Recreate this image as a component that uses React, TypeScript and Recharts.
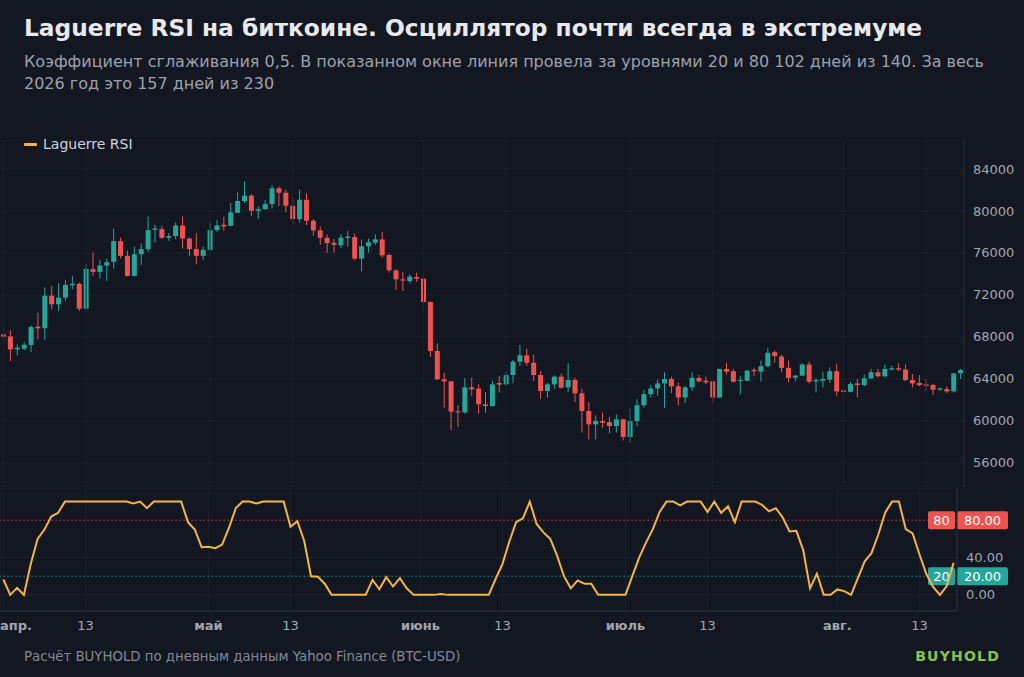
import React from 'react';
import { ComposedChart, Bar, Line, XAxis, YAxis, CartesianGrid, ReferenceLine } from 'recharts';

// ---- data (Apr 1 .. Aug 18, daily BTC-USD) ----
const openP = [
  68250, 68060, 66820, 66890, 67240, 68990, 68830, 71940, 71120, 71750,
  72930, 73060, 70700, 74460, 74200, 74810, 75160, 77130, 75730, 73820,
  75890, 76370, 78210, 78270, 77450, 77610, 78620, 77380, 76370, 75730,
  76300, 78180, 78690, 78590, 79830, 80950, 81460, 80020, 80180, 80660,
  82160, 81740, 80500, 79230, 81070, 79070, 78150, 77450, 76970, 76730,
  77430, 77520, 75460, 76640, 76980, 77300, 75810, 74350, 73490, 73330,
  73710, 73560, 71330, 66670, 63970, 63780, 60920, 60820, 63200, 63080,
  61590, 61430, 63620, 63490, 64380, 65650, 66250, 65550, 64380, 62860,
  63490, 64220, 63200, 63900, 62630, 60950, 59680, 60000, 59900, 59520,
  60160, 58480, 60000, 61500, 62560, 63100, 63580, 64000, 63300, 62240,
  63200, 64100, 63840, 63780, 62240, 64960, 64740, 63810, 63840, 64860,
  64700, 65220, 66560, 66140, 65060, 64130, 64320, 65380, 63780, 63840,
  63940, 64740, 62910, 62780, 63580, 63420, 64060, 64640, 64260, 64900,
  65020, 64900, 63900, 63620, 63490, 63420, 62980, 63040, 62820, 64540,
];
const highP = [
  69210, 68640, 67300, 67520, 69110, 70320, 72740, 72870, 73120, 73440,
  73820, 73180, 74930, 76050, 75350, 75470, 78340, 77480, 76210, 76620,
  76910, 79480, 78690, 78590, 77890, 78910, 79480, 77480, 77890, 76620,
  78910, 79130, 79450, 80760, 81770, 82820, 81610, 80440, 81040, 82470,
  82350, 82030, 81300, 82030, 81680, 79230, 78530, 77770, 77320, 77780,
  78100, 77840, 77300, 77370, 77780, 78000, 75970, 74440, 74190, 73970,
  74130, 73940, 71400, 67400, 64600, 63800, 61490, 64090, 64130, 63490,
  62760, 63810, 64280, 64700, 65810, 67240, 66890, 66320, 64760, 63650,
  64350, 64510, 65490, 64130, 63080, 61810, 60540, 60790, 60410, 60630,
  60200, 61180, 62080, 62980, 63420, 63940, 64640, 64220, 63680, 63360,
  64640, 64380, 64220, 63800, 64960, 65540, 64960, 64320, 64830, 65060,
  65760, 66980, 66720, 66340, 65760, 64380, 65500, 65660, 64060, 64700,
  65120, 65440, 63100, 63740, 64000, 64420, 64960, 64960, 65380, 65280,
  65500, 65380, 64480, 64380, 64000, 63520, 63200, 63300, 64540, 64960,
];
const lowP = [
  67460, 65710, 66250, 66730, 66570, 67780, 67710, 70640, 70480, 71440,
  72550, 70480, 70640, 73820, 73570, 73340, 74520, 75470, 73760, 73760,
  74840, 76110, 77000, 77320, 77160, 77320, 76430, 75730, 74930, 75350,
  76210, 78020, 78120, 78530, 79800, 80760, 79550, 79230, 80120, 80250,
  80440, 79870, 78720, 78910, 78660, 77640, 76780, 76050, 76050, 76480,
  76600, 75300, 74250, 76030, 76790, 75560, 74130, 72480, 72380, 73110,
  73270, 70570, 66090, 63900, 61270, 59110, 59430, 60700, 62380, 60700,
  60790, 61360, 62700, 63400, 63590, 65240, 65240, 63810, 62130, 62220,
  63080, 63100, 62760, 61810, 58890, 58250, 58250, 59360, 58820, 58890,
  58150, 57900, 59520, 61280, 62240, 62400, 61250, 62660, 61500, 61700,
  62880, 63680, 63520, 61760, 62200, 64420, 63680, 62500, 63800, 64260,
  63740, 65120, 65540, 64640, 63680, 63780, 64300, 63580, 62720, 63200,
  63620, 62400, 62210, 62720, 62240, 63300, 64000, 64160, 64160, 64800,
  64740, 63780, 63200, 63300, 62880, 62500, 62880, 62660, 62720, 64000,
];
const closeP = [
  68030, 66820, 66980, 67270, 68950, 68830, 71940, 71120, 71750, 72960,
  73060, 70700, 74490, 74200, 74810, 75130, 77130, 75730, 73820, 75890,
  76370, 78180, 78340, 77450, 77610, 78620, 77380, 76370, 75730, 76300,
  78180, 78620, 78530, 79870, 80950, 81460, 80020, 80180, 80660, 82160,
  81740, 80500, 79230, 81070, 79070, 78150, 77450, 76940, 76780, 77460,
  77560, 75460, 76640, 77020, 77300, 75780, 74350, 73490, 73370, 73750,
  73560, 71330, 66670, 63970, 63780, 60890, 60820, 63200, 63010, 61590,
  61430, 63490, 63460, 64380, 65650, 66250, 65550, 64380, 62860, 63490,
  64220, 63170, 63900, 62630, 60950, 59680, 60000, 59840, 59520, 60160,
  58480, 60000, 61500, 62560, 63100, 63580, 64000, 63300, 62240, 63200,
  64100, 63780, 63680, 62240, 64960, 64700, 63740, 63900, 64800, 64740,
  65220, 66500, 66180, 65060, 64100, 64320, 65380, 63740, 63900, 64000,
  64740, 62820, 62780, 63520, 63420, 64060, 64640, 64260, 64960, 65020,
  64900, 63900, 63580, 63420, 63360, 62980, 63100, 62820, 64540, 64860,
];
const rsiValues = [
  16.5, 0, 7.5, 0, 33, 60, 70, 84, 88, 100,
  100, 100, 100, 100, 100, 100, 100, 100, 100, 98,
  100, 93, 100, 100, 100, 100, 100, 78, 70, 51,
  51.5, 50, 54, 72, 93, 100, 100, 98, 100, 100,
  100, 100, 73, 79, 58, 20, 19.5, 12, 0, 0,
  0, 0, 0, 0, 16, 6, 19, 9, 18, 7,
  0, 0, 0, 0, 1, 0, 0, 0, 0, 0,
  0, 0, 17, 33, 57, 78, 82, 100, 76, 67,
  60, 42, 20, 7, 15.5, 12, 12, 0, 0, 0,
  0, 0, 20, 40, 56, 70.5, 89, 100, 100, 96,
  100, 100, 100, 89, 100, 88, 95, 78, 100, 100,
  100, 96.4, 89.6, 93, 83, 68, 68.7, 48, 7, 22.6,
  0, 0, 5.8, 4, 0, 18, 36, 45, 65, 88.5,
  100, 100, 70.5, 66, 43.5, 22.6, 8.6, 0, 9.4, 34.5,
];
const tickIdx = [0, 12, 30, 42, 61, 73, 91, 103, 122, 134];
const tickLabels = ['апр.', '13', 'май', '13', 'июнь', '13', 'июль', '13', 'авг.', '13'];
const monthTicks = [0, 30, 61, 91, 122];
const priceTicks = [56000, 60000, 64000, 68000, 72000, 76000, 80000, 84000];
const rsiTicks = [0, 40];
const upperLevel = 80;
const lowerLevel = 20;

const candleData = openP.map((o, i) => ({
  i,
  open: o,
  high: highP[i],
  low: lowP[i],
  close: closeP[i],
  range: [lowP[i], highP[i]],
}));
const rsiData = rsiValues.map((v, i) => ({ i, rsi: v }));

const BG = '#131722';
const GRID = '#1d212c';
const BORDER = '#2a2e39';
const UP = '#26a69a';
const DOWN = '#ef5350';
const RSI_COLOR = '#f5b544';
const AXIS_TEXT = '#a3a6af';
const FONT = '"DejaVu Sans", sans-serif';

function Candle(props: any) {
  const { x, y, width, height, payload } = props;
  if (!payload) return null;
  const top = Math.min(y, y + height);
  const h = Math.abs(height);
  const { open, close, high, low } = payload;
  const span = high - low || 1;
  const py = (v: number) => top + ((high - v) / span) * h;
  const color = close >= open ? UP : DOWN;
  const cx = x + width / 2;
  const bTop = py(Math.max(open, close));
  const bBot = py(Math.min(open, close));
  return (
    <g>
      <line x1={cx} x2={cx} y1={top} y2={top + h} stroke={color} strokeWidth={1} />
      <rect x={x} y={bTop} width={width} height={Math.max(1, bBot - bTop)} fill={color} />
    </g>
  );
}

function PriceTick(props: any) {
  const { y, payload } = props;
  return (
    <text x={973} y={y} fill={AXIS_TEXT} fontSize={13} fontFamily={FONT} dominantBaseline="central">
      {payload.value}
    </text>
  );
}

function RsiTick(props: any) {
  const { y, payload } = props;
  return (
    <text x={966} y={y} fill={AXIS_TEXT} fontSize={13} fontFamily={FONT} dominantBaseline="central">
      {Number(payload.value).toFixed(2)}
    </text>
  );
}

function DateTick(props: any) {
  const { x, payload } = props;
  const k = tickIdx.indexOf(payload.value);
  const label = k >= 0 ? tickLabels[k] : '';
  const isMonth = monthTicks.indexOf(payload.value) >= 0;
  const first = payload.value === tickIdx[0];
  return (
    <text
      x={first ? 0 : x}
      y={137}
      fill={AXIS_TEXT}
      fontSize={13}
      fontFamily={FONT}
      fontWeight={isMonth ? 700 : 400}
      textAnchor={first ? 'start' : 'middle'}
      dominantBaseline="central"
    >
      {label}
    </text>
  );
}

function Badge(props: any) {
  const { viewBox, value, color } = props;
  if (!viewBox) return null;
  const right = viewBox.x + viewBox.width;
  const ly = viewBox.y;
  return (
    <g>
      <rect x={right - 29} y={ly - 9} width={27} height={18} rx={2} fill={color} />
      <text x={right - 15.5} y={ly} fill="#ffffff" fontSize={13} fontFamily={FONT} textAnchor="middle" dominantBaseline="central">
        {value}
      </text>
      <rect x={right} y={ly - 9} width={51} height={18} rx={2} fill={color} />
      <text x={right + 25.5} y={ly} fill="#ffffff" fontSize={13} fontFamily={FONT} textAnchor="middle" dominantBaseline="central">
        {value.toFixed(2)}
      </text>
    </g>
  );
}

export default function App() {
  return (
    <div
      style={{
        position: 'absolute',
        left: 0,
        top: 0,
        width: 1024,
        height: 677,
        background: BG,
        overflow: 'hidden',
        fontFamily: FONT,
      }}
    >
      <div style={{ position: 'absolute', left: 24, top: 14, fontSize: 23.3, fontWeight: 700, color: '#e8e9ed', whiteSpace: 'nowrap' }}>
        Laguerre RSI на биткоине. Осциллятор почти всегда в экстремуме
      </div>
      <div style={{ position: 'absolute', left: 24, top: 51, fontSize: 16, lineHeight: '22px', color: '#9da1aa', whiteSpace: 'nowrap' }}>
        Коэффициент сглаживания 0,5. В показанном окне линия провела за уровнями 20 и 80 102 дней из 140. За весь
        <br />
        2026 год это 157 дней из 230
      </div>
      <div style={{ position: 'absolute', left: 24, top: 136, display: 'flex', alignItems: 'center', gap: 6, fontSize: 14, color: '#d1d4dc', zIndex: 2 }}>
        <span style={{ display: 'inline-block', width: 13, height: 3, background: RSI_COLOR, borderRadius: 1 }} />
        <span>Laguerre RSI</span>
      </div>

      <div style={{ position: 'absolute', left: 0, top: 140 }}>
        <ComposedChart width={1024} height={347} data={candleData} margin={{ top: 0, right: 0, bottom: 0, left: 0 }}>
          <CartesianGrid stroke={GRID} vertical={false} />
          <XAxis dataKey="i" type="category" hide />
          <YAxis
            orientation="right"
            domain={[53714, 86762]}
            ticks={priceTicks}
            width={60}
            allowDataOverflow
            axisLine={{ stroke: BORDER }}
            tickLine={false}
            tick={<PriceTick />}
          />
          {tickIdx.map((t) => (
            <ReferenceLine key={'g' + t} x={t} stroke={GRID} />
          ))}
          <Bar dataKey="range" barSize={5} shape={<Candle />} isAnimationActive={false} />
        </ComposedChart>
      </div>

      <div style={{ position: 'absolute', left: 0, top: 488 }}>
        <ComposedChart width={1024} height={153} data={rsiData} margin={{ top: 0, right: 0, bottom: 0, left: 0 }}>
          <CartesianGrid stroke={GRID} />
          <XAxis
            dataKey="i"
            type="category"
            ticks={tickIdx}
            interval={0}
            height={30}
            padding={{ left: 3.4, right: 3.4 }}
            axisLine={{ stroke: BORDER }}
            tickLine={false}
            tick={<DateTick />}
          />
          <YAxis
            orientation="right"
            domain={[-17.3, 114.6]}
            ticks={rsiTicks}
            width={67}
            allowDataOverflow
            axisLine={{ stroke: BORDER }}
            tickLine={false}
            tick={<RsiTick />}
          />
          <ReferenceLine y={upperLevel} stroke={DOWN} strokeOpacity={0.75} strokeDasharray="1.5 2.5" label={<Badge value={upperLevel} color={DOWN} />} />
          <ReferenceLine y={lowerLevel} stroke={UP} strokeOpacity={0.85} strokeDasharray="1.5 2.5" label={<Badge value={lowerLevel} color={UP} />} />
          <Line type="linear" dataKey="rsi" stroke={RSI_COLOR} strokeWidth={2} dot={false} isAnimationActive={false} />
        </ComposedChart>
      </div>

      <div style={{ position: 'absolute', left: 24, top: 649, fontSize: 13.3, color: '#858893', whiteSpace: 'nowrap' }}>
        Расчёт BUYHOLD по дневным данным Yahoo Finance (BTC-USD)
      </div>
      <div style={{ position: 'absolute', right: 24, top: 648, fontSize: 14, fontWeight: 700, color: '#8bc34a', letterSpacing: 1.2 }}>
        BUYHOLD
      </div>
    </div>
  );
}
